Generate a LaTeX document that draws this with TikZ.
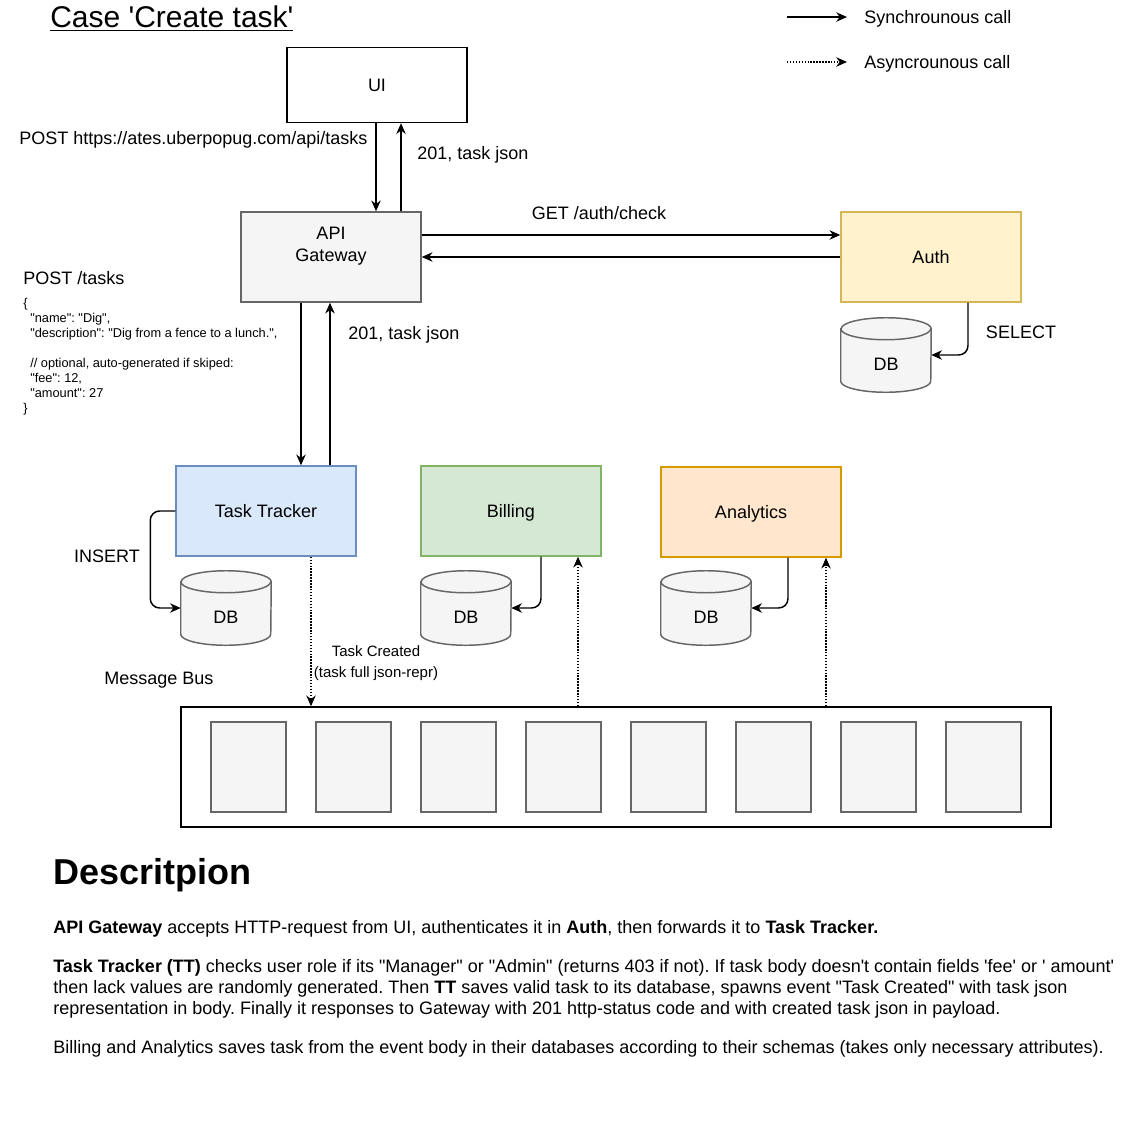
\documentclass[tikz,border=0pt]{standalone}
\usepackage{fontspec}
\setmainfont{Liberation Sans}
\usetikzlibrary{arrows.meta,calc}

\definecolor{grayfill}{HTML}{F5F5F5}
\definecolor{grayline}{HTML}{666666}
\definecolor{ttfill}{HTML}{DAE8FC}
\definecolor{ttline}{HTML}{6C8EBF}
\definecolor{billfill}{HTML}{D5E8D4}
\definecolor{billline}{HTML}{82B366}
\definecolor{anafill}{HTML}{FFE6CC}
\definecolor{analine}{HTML}{D79B00}
\definecolor{authfill}{HTML}{FFF2CC}
\definecolor{authline}{HTML}{D6B656}

% straight quotes
\newcommand\sq{\textquotesingle}
\newcommand\dq{\textquotedbl}
\frenchspacing

\tikzset{
  lbl/.style={inner sep=0pt, text height=9.67pt, text depth=0pt,
    font=\fontsize{13.5pt}{16.5pt}\selectfont},
  small/.style={inner sep=0pt, text height=8.06pt, text depth=0pt,
    font=\fontsize{11.25pt}{15.75pt}\selectfont},
  json/.style={inner sep=0pt, anchor=west, text height=6.9pt, text depth=0pt,
    font=\fontsize{9.6pt}{11pt}\selectfont},
  box/.style={draw, line width=1.1pt, minimum width=135pt, minimum height=67.5pt,
    inner sep=0pt, text height=9.67pt, text depth=0pt,
    font=\fontsize{13.5pt}{16.5pt}\selectfont, align=center},
  slot/.style={draw=grayline, fill=grayfill, line width=1.1pt,
    minimum width=56.25pt, minimum height=67.5pt, inner sep=0pt},
  dbbox/.style={minimum width=67.5pt, minimum height=55.5pt, inner sep=0pt},
  dbline/.style={draw=grayline, fill=grayfill, line width=1.1pt},
  sync/.style={line width=1.1pt, -{Stealth[length=8pt,width=7pt,inset=2.5pt]}},
  async/.style={line width=1.1pt, dash pattern=on 1.1pt off 1.1pt,
    -{Stealth[length=8pt,width=7pt,inset=2.5pt]}},
}

% database cylinder: name, centre x, centre y (pixel grid)
\newcommand\dbcyl[3]{%
  \node[dbbox] (#1) at (#2,#3) {};
  \path[dbline] ($(#1.north west)+(0,11)$) -- ($(#1.south west)+(0,-11)$)
    arc[start angle=180, end angle=360, x radius=33.75pt, y radius=8.25pt]
    -- ($(#1.north east)+(0,11)$)
    arc[start angle=0, end angle=180, x radius=33.75pt, y radius=8.25pt] -- cycle;
  \draw[draw=grayline, line width=1.1pt] ($(#1.north west)+(0,11)$)
    arc[start angle=180, end angle=360, x radius=33.75pt, y radius=8.25pt];
  \node[lbl] (#1-t) at ($(#1.center)+(0,9)$) {DB};
}

\begin{document}
\begin{tikzpicture}[x=0.75pt, y=-0.75pt]
\useasboundingbox (0,0) rectangle (1127,1143);
\fill[white] (0,0) rectangle (1127,1143);

% title
\node[inner sep=0pt, anchor=west, text height=16.1pt, text depth=0pt,
  font=\fontsize{22.5pt}{26pt}\selectfont] (title) at (50,17)
  {\underline{Case \sq Create task\sq}};

% legend
\coordinate (ls1) at (787,17);
\coordinate (le1) at (847,17);
\coordinate (ls2) at (787,62);
\coordinate (le2) at (847,62);
\draw[sync] (ls1) -- (le1);
\draw[async] (ls2) -- (le2);
\node[lbl, anchor=west] (legsync) at (864,17) {Synchrounous call};
\node[lbl, anchor=west] (legasync) at (864,62) {Asyncrounous call};

% services
\node[box, minimum height=56.25pt, fill=white] (ui) at (377,85) {UI};
\node[box, draw=grayline, fill=grayfill] (api) at (331,257) {};
\node[lbl, align=center] (apiT) at (331,255) {API\\Gateway};
\node[box, draw=authline, fill=authfill] (auth) at (931,257) {Auth};
\node[box, draw=ttline, fill=ttfill] (tt) at (266,511) {Task Tracker};
\node[box, draw=billline, fill=billfill] (bill) at (511,511) {Billing};
\node[box, draw=analine, fill=anafill] (ana) at (751,512) {Analytics};

% databases
\dbcyl{dbAuth}{886}{355}
\dbcyl{dbTT}{226}{608}
\dbcyl{dbBill}{466}{608}
\dbcyl{dbAna}{706}{608}

% message bus
\node[draw, line width=1.1pt, minimum width=652.5pt, minimum height=90pt, inner sep=0pt] (bus) at (616,767) {};
\foreach \i in {0,...,7} {
  \node[slot] (slot\i) at (248.5+105*\i,767) {};
}
\node[lbl] (busT) at (159,678) {Message Bus};

% UI <-> API Gateway
\draw[sync] ([xshift=-0.75pt]ui.south) -- ([xshift=-0.75pt]ui.south |- api.north);
\draw[sync] ([xshift=18pt]ui.south |- api.north) -- ([xshift=18pt]ui.south);
\node[lbl, anchor=west] (postUrl) at (19,138) {POST https://ates.uberpopug.com/api/tasks};
\node[lbl, anchor=west] (resp1) at (417,153) {201, task json};

% API Gateway <-> Auth
\draw[sync] ([yshift=16.5pt]api.east) -- ([yshift=16.5pt]api.east -| auth.west);
\draw[sync] (auth.west) -- (api.east);
\node[lbl] (authChk) at (599,213) {GET /auth/check};

% Auth -> DB
\draw[sync, rounded corners=7pt] ([xshift=27.75pt]auth.south) |- (dbAuth.east);
\node[lbl] (selT) at (1021,332) {SELECT};

% API Gateway <-> Task Tracker
\draw[sync] ([xshift=-22.5pt]api.south) -- ([xshift=-22.5pt]api.south |- tt.north);
\draw[sync] ([xshift=-0.75pt]api.south |- tt.north) -- ([xshift=-0.75pt]api.south);
\node[lbl, anchor=west] (resp2) at (348,333) {201, task json};

% request body
\node[lbl, anchor=west] (postT) at (23,278) {POST /tasks};
\node[json] (j0) at (23,303) {\{};
\node[json] (j1) at (30,318) {\dq name\dq: \dq Dig\dq,};
\node[json] (j2) at (30,333) {\dq description\dq: \dq Dig from a fence to a lunch.\dq,};
\node[json] (j3) at (30,363) {// optional, auto-generated if skiped:};
\node[json] (j4) at (30,378) {\dq fee\dq: 12,};
\node[json] (j5) at (30,393) {\dq amount\dq: 27};
\node[json] (j6) at (23,408) {\}};

% Task Tracker -> DB
\draw[sync, rounded corners=7pt] (tt.west) -- ++(-25,0) |- (dbTT.west);
\node[lbl] (insT) at (107,556) {INSERT};

% Billing / Analytics -> DB
\draw[sync, rounded corners=7pt] ([xshift=22.5pt]bill.south) |- (dbBill.east);
\draw[sync, rounded corners=7pt] ([xshift=27.75pt]ana.south) |- (dbAna.east);

% events over the bus
\draw[async] ([xshift=33.75pt]tt.south) -- ([xshift=33.75pt]tt.south |- bus.north);
\node[small] (evT1) at (376,651) {Task Created};
\node[small] (evT2) at (376,672) {(task full json-repr)};
\draw[async] ([xshift=50.25pt]bill.south |- bus.north) -- ([xshift=50.25pt]bill.south);
\draw[async] ([xshift=56.25pt]ana.south |- bus.north) -- ([xshift=56.25pt]ana.south);

% description
\node[inner sep=0pt, anchor=west, text height=19.3pt, text depth=0pt,
  font=\fontsize{27pt}{32pt}\selectfont\bfseries] (descH) at (53,872) {Descritpion};
\node[lbl, anchor=west] (d1) at (53,927) {\textbf{API Gateway} accepts HTTP-request from UI, authenticates it in \textbf{Auth}, then forwards it to \textbf{Task Tracker.}};
\node[lbl, anchor=west] (d2) at (53,966) {\textbf{Task Tracker (TT)} checks user role if its \dq Manager\dq{} or \dq Admin\dq{} (returns 403 if not). If task body doesn\sq t contain fields \sq fee\sq{} or \sq{} amount\sq};
\node[lbl, anchor=west] (d3) at (53,987) {then lack values are randomly generated. Then \textbf{TT} saves valid task to its database, spawns event \dq Task Created\dq{} with task json};
\node[lbl, anchor=west] (d4) at (53,1008) {representation in body. Finally it responses to Gateway with 201 http-status code and with created task json in payload.};
\node[lbl, anchor=west] (d5) at (53,1047) {Billing and Analytics saves task from the event body in their databases according to their schemas (takes only necessary attributes).};
\end{tikzpicture}
\end{document}
